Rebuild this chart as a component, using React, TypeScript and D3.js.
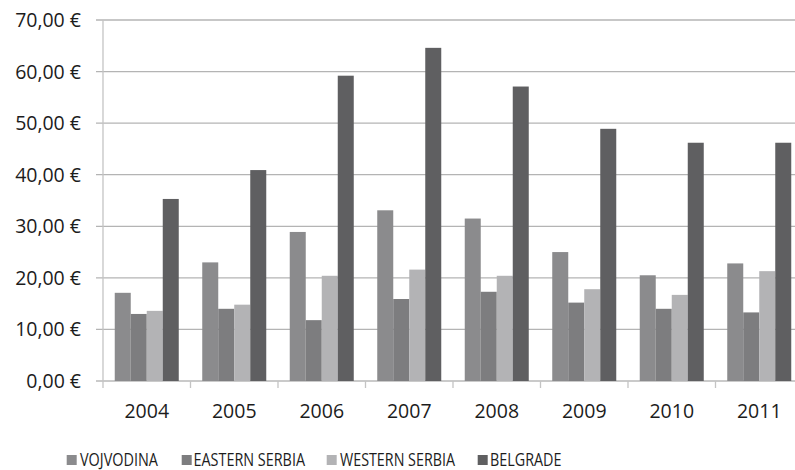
import React from "react";
import * as d3 from "d3";

const years = ["2004", "2005", "2006", "2007", "2008", "2009", "2010", "2011"];
const seriesNames = ["VOJVODINA", "EASTERN SERBIA", "WESTERN SERBIA", "BELGRADE"];
const vojvodina = [17.1, 23.0, 28.9, 33.1, 31.5, 25.0, 20.5, 22.8];
const easternSerbia = [13.0, 14.0, 11.8, 15.9, 17.3, 15.2, 14.0, 13.3];
const westernSerbia = [13.6, 14.8, 20.4, 21.6, 20.4, 17.8, 16.7, 21.3];
const belgrade = [35.3, 40.9, 59.2, 64.6, 57.1, 48.9, 46.2, 46.2];
const yTicks = [0, 10, 20, 30, 40, 50, 60, 70];
const colors = ["#8b8b8d", "#7d7d7f", "#b3b3b5", "#5f5f61"];

const seriesValues = [vojvodina, easternSerbia, westernSerbia, belgrade];

const W = 795;
const H = 470;
const left = 103;
const catStep = 87.5;
const top = 20;
const bottom = 381;

export default function App() {
  const x0 = d3
    .scaleBand<string>()
    .domain(years)
    .range([left, left + catStep * years.length])
    .paddingInner(0)
    .paddingOuter(0);
  const x1 = d3
    .scaleBand<string>()
    .domain(seriesNames)
    .range([0, x0.bandwidth()])
    .paddingInner(0)
    .paddingOuter(0.734);
  const y = d3.scaleLinear().domain([0, 70]).range([bottom, top]);
  const fmt = (v: number) => d3.format(".2f")(v).replace(".", ",") + " €";

  const legendItems = [
    { sq: 66.7, tx: 80, tw: 78 },
    { sq: 181.7, tx: 193.5, tw: 111.5 },
    { sq: 326.7, tx: 340, tw: 115 },
    { sq: 477.7, tx: 490, tw: 71.5 },
  ];

  return (
    <svg
      width={W}
      height={H}
      style={{ position: "absolute", left: 0, top: 0, background: "#fff" }}
      fontFamily="'Open Sans', sans-serif"
    >
      <rect x={0} y={0} width={W} height={H} fill="#fff" />
      {yTicks.map((t) => (
        <g key={t}>
          <line x1={96} x2={W} y1={y(t)} y2={y(t)} stroke={t === 0 ? "#b8b8b8" : "#b4b4b4"} strokeWidth={1.3} />
          <text x={81} y={y(t)} dy="0.36em" textAnchor="end" fontSize={19.5} fill="#1c1c1c">
            {fmt(t)}
          </text>
        </g>
      ))}
      <line x1={left} x2={left} y1={top} y2={bottom + 7} stroke="#c4c4c4" strokeWidth={1.3} />
      {years.map((yr) => (
        <line
          key={"t" + yr}
          x1={x0(yr)! + catStep}
          x2={x0(yr)! + catStep}
          y1={bottom}
          y2={bottom + 7}
          stroke="#c4c4c4"
          strokeWidth={1.3}
        />
      ))}
      {years.map((yr, i) => (
        <g key={yr} transform={`translate(${x0(yr)},0)`}>
          {seriesNames.map((s, j) => (
            <rect
              key={s}
              x={x1(s)}
              y={y(seriesValues[j][i])}
              width={x1.bandwidth()}
              height={bottom - y(seriesValues[j][i])}
              fill={colors[j]}
            />
          ))}
          <text x={x0.bandwidth() / 2} y={418} textAnchor="middle" fontSize={19.5} fill="#1c1c1c">
            {yr}
          </text>
        </g>
      ))}
      {seriesNames.map((s, j) => (
        <g key={"l" + s}>
          <rect x={legendItems[j].sq} y={455} width={10} height={10} fill={colors[j]} />
          <text
            x={legendItems[j].tx}
            y={465.5}
            fontSize={18.5}
            fill="#1c1c1c"
            textLength={legendItems[j].tw}
            lengthAdjust="spacingAndGlyphs"
          >
            {s}
          </text>
        </g>
      ))}
    </svg>
  );
}
